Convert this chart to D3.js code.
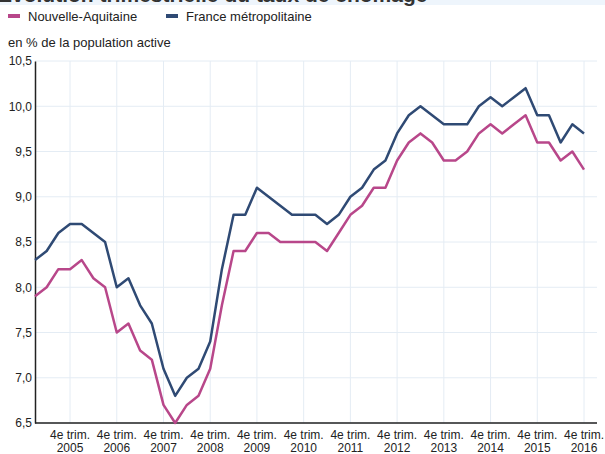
<!DOCTYPE html>
<html>
<head>
<meta charset="utf-8">
<script src="https://cdn.jsdelivr.net/npm/d3@7"></script>
<style>
  body { margin: 0; background: #fff; }
  svg { display: block; font-family: "Liberation Sans", Arial, sans-serif; }
</style>
</head>
<body>
<div id="chart"></div>
<script>
// quarters from 1er trim. 2005 to 4e trim. 2016
var years = [2005, 2006, 2007, 2008, 2009, 2010, 2011, 2012, 2013, 2014, 2015, 2016];
var quarters = [];
years.forEach(function(y) { [1, 2, 3, 4].forEach(function(q) { quarters.push(y + "T" + q); }); });

var aquitaine = [
  7.9, 8.0, 8.2, 8.2,
  8.3, 8.1, 8.0, 7.5,
  7.6, 7.3, 7.2, 6.7,
  6.5, 6.7, 6.8, 7.1,
  7.8, 8.4, 8.4, 8.6,
  8.6, 8.5, 8.5, 8.5,
  8.5, 8.4, 8.6, 8.8,
  8.9, 9.1, 9.1, 9.4,
  9.6, 9.7, 9.6, 9.4,
  9.4, 9.5, 9.7, 9.8,
  9.7, 9.8, 9.9, 9.6,
  9.6, 9.4, 9.5, 9.3
];
var france = [
  8.3, 8.4, 8.6, 8.7,
  8.7, 8.6, 8.5, 8.0,
  8.1, 7.8, 7.6, 7.1,
  6.8, 7.0, 7.1, 7.4,
  8.2, 8.8, 8.8, 9.1,
  9.0, 8.9, 8.8, 8.8,
  8.8, 8.7, 8.8, 9.0,
  9.1, 9.3, 9.4, 9.7,
  9.9, 10.0, 9.9, 9.8,
  9.8, 9.8, 10.0, 10.1,
  10.0, 10.1, 10.2, 9.9,
  9.9, 9.6, 9.8, 9.7
];
var yTicks = [6.5, 7.0, 7.5, 8.0, 8.5, 9.0, 9.5, 10.0, 10.5];
var series = [
  { name: "Nouvelle-Aquitaine", values: aquitaine, color: "#b8478a" },
  { name: "France métropolitaine", values: france, color: "#2f4a74" }
];

var width = 605, height = 454;
var plotLeft = 35, plotRight = 597, plotTop = 61, plotBottom = 423;
var fmt = function(d) { return d3.format(".1f")(d).replace(".", ","); };

var svg = d3.select("#chart").append("svg")
  .attr("width", width)
  .attr("height", height);

// title band (cut at the top)
svg.append("rect").attr("x", 0).attr("y", 0).attr("width", width).attr("height", 5).attr("fill", "#eef5fc");
svg.append("text")
  .attr("x", -2).attr("y", 2)
  .attr("font-size", 21).attr("font-weight", "bold").attr("fill", "#333")
  .text("Évolution trimestrielle du taux de chômage");

// legend
var legendX = [8, 166];
series.forEach(function(s, i) {
  svg.append("rect").attr("x", legendX[i]).attr("y", 14).attr("width", 12).attr("height", 4).attr("fill", s.color);
  svg.append("text").attr("x", legendX[i] + 20).attr("y", 21)
    .attr("font-size", 13).attr("fill", "#222").text(s.name);
});

svg.append("text").attr("x", 8).attr("y", 47)
  .attr("font-size", 13).attr("fill", "#222").text("en % de la population active");

var x = d3.scaleLinear().domain([0, quarters.length - 1]).range([plotLeft, 584]);
var y = d3.scaleLinear().domain([6.5, 10.5]).range([plotBottom, plotTop]);

var grid = svg.append("g").attr("stroke", "#e4ecf4").attr("stroke-width", 1);
yTicks.forEach(function(t) {
  grid.append("line").attr("x1", plotLeft).attr("x2", plotRight).attr("y1", y(t)).attr("y2", y(t));
});
years.forEach(function(yr, i) {
  var xi = x(i * 4 + 3);
  grid.append("line").attr("x1", xi).attr("x2", xi).attr("y1", plotTop).attr("y2", plotBottom);
});

// y axis
var yAxis = svg.append("g")
  .attr("transform", "translate(" + plotLeft + ",0)")
  .call(d3.axisLeft(y).tickValues(yTicks).tickFormat(fmt).tickSize(0).tickPadding(3));
yAxis.select(".domain").attr("stroke", "#222").attr("stroke-width", 1.5);
yAxis.selectAll("text").attr("font-size", 12).attr("fill", "#222")
  .attr("font-family", "Liberation Sans, Arial, sans-serif");

// x axis
svg.append("line").attr("x1", plotLeft).attr("x2", plotRight).attr("y1", plotBottom).attr("y2", plotBottom)
  .attr("stroke", "#222").attr("stroke-width", 1.5);
var xl = svg.append("g").attr("font-size", 12).attr("fill", "#222").attr("text-anchor", "middle");
years.forEach(function(yr, i) {
  var xi = x(i * 4 + 3);
  var t = xl.append("text").attr("x", xi).attr("y", 439);
  t.append("tspan").attr("x", xi).text("4e trim.");
  t.append("tspan").attr("x", xi).attr("dy", 12.5).text(yr);
});

// lines
var line = d3.line().x(function(d, i) { return x(i); }).y(function(d) { return y(d); });
series.forEach(function(s) {
  svg.append("path").datum(s.values)
    .attr("d", line)
    .attr("fill", "none")
    .attr("stroke", s.color)
    .attr("stroke-width", 2.5)
    .attr("stroke-linejoin", "round");
});
</script>
</body>
</html>
